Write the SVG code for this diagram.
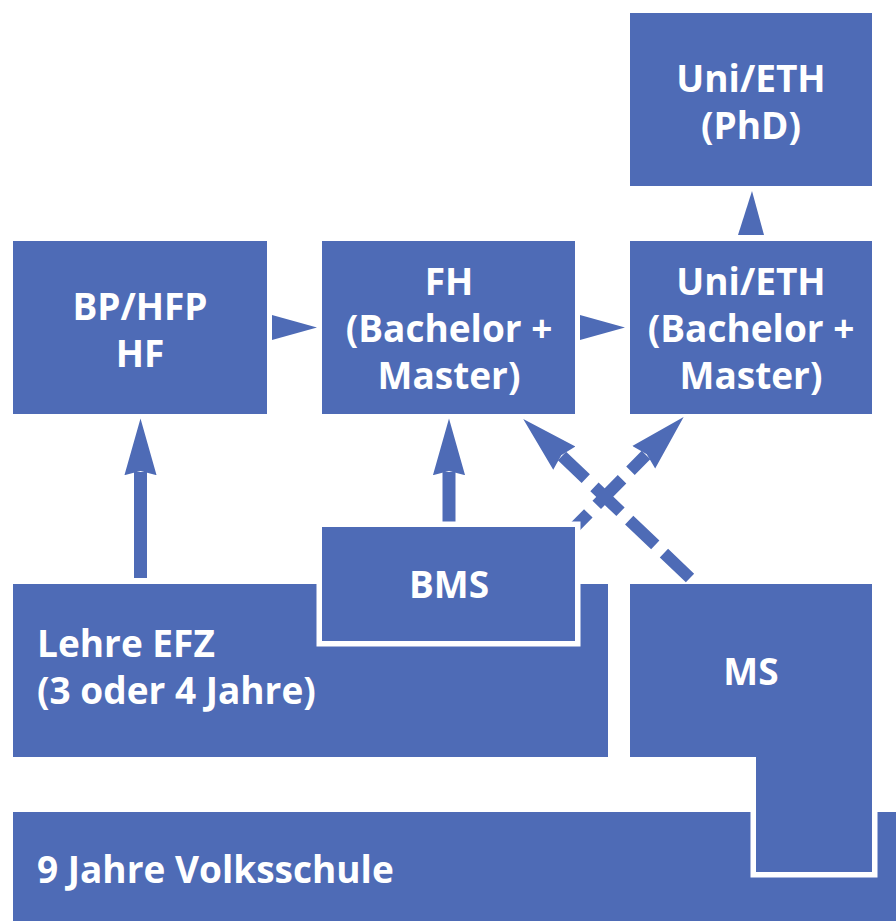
<svg xmlns="http://www.w3.org/2000/svg" width="896" height="921" viewBox="0 0 896 921">
<style>
.box{fill:#4E6BB6}
.out{fill:#4E6BB6;stroke:#FFFFFF;stroke-width:11;paint-order:stroke;stroke-linejoin:miter}
.t{font-family:"Open Sans","Noto Sans","DejaVu Sans",sans-serif;font-weight:700;font-size:37px;fill:#FFFFFF}
.c{text-anchor:middle}
.solid{stroke:#4E6BB6;stroke-width:13;fill:none;marker-end:url(#head)}
.dash{stroke:#4E6BB6;stroke-width:12;fill:none;stroke-dasharray:36 12;marker-end:url(#head)}
.tri{fill:#4E6BB6}
</style>
<defs>
<marker id="head" markerUnits="userSpaceOnUse" markerWidth="60" markerHeight="40" viewBox="0 0 56 30" refX="3" refY="15" orient="auto">
<path d="M0,0 L53,15 L0,30 L4,15 z" fill="#4E6BB6"/>
</marker>
</defs>
<rect width="896" height="921" fill="#FFFFFF"/>
<g id="volksschule">
<rect class="box" x="13" y="812" width="890" height="115"/>
<text class="t" x="37" y="883">9 Jahre Volksschule</text>
</g>
<g id="ms">
<polygon class="out" points="630,584 872,584 872,872 756,872 756,757 630,757"/>
<text class="t c" x="751" y="685">MS</text>
</g>
<g id="lehre">
<rect class="box" x="13" y="584" width="595" height="173"/>
<text class="t" x="37" y="657">Lehre EFZ</text>
<text class="t" x="37" y="704">(3 oder 4 Jahre)</text>
</g>
<g id="bp-hfp">
<rect class="box" x="13" y="241" width="254" height="173"/>
<text class="t c" x="140" y="320">BP/HFP</text>
<text class="t c" x="140" y="367">HF</text>
</g>
<g id="fh">
<rect class="box" x="322" y="241" width="253" height="173"/>
<text class="t c" x="449" y="295">FH</text>
<text class="t c" x="449" y="342">(Bachelor +</text>
<text class="t c" x="449" y="389">Master)</text>
</g>
<g id="uni-master">
<rect class="box" x="630" y="241" width="242" height="173"/>
<text class="t c" x="751" y="295">Uni/ETH</text>
<text class="t c" x="751" y="342">(Bachelor +</text>
<text class="t c" x="751" y="389">Master)</text>
</g>
<g id="uni-phd">
<rect class="box" x="630" y="13" width="242" height="173"/>
<text class="t c" x="751" y="92">Uni/ETH</text>
<text class="t c" x="751" y="139">(PhD)</text>
</g>
<g id="connectors">
<polygon class="tri" points="272,315 317,327.5 272,340"/>
<polygon class="tri" points="580,315 625,327.5 580,340"/>
<polygon class="tri" points="738,235 752,191 764,235"/>
<line class="solid" x1="140.5" y1="578" x2="140.5" y2="472"/>
<line class="solid" x1="449" y1="522" x2="449" y2="472"/>
<line class="dash" x1="690" y1="578" x2="562" y2="456"/>
<line class="dash" x1="563" y1="539" x2="646" y2="455"/>
</g>
<g id="bms">
<rect class="out" x="322" y="527" width="253" height="114"/>
<text class="t c" x="449" y="598">BMS</text>
</g>
</svg>
